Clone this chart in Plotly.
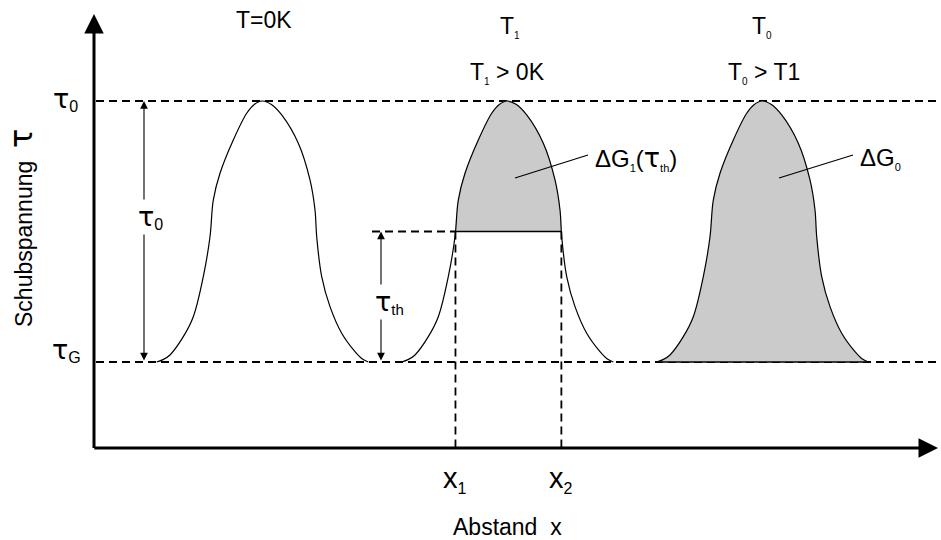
import numpy as np
import plotly.graph_objects as go

# Stress levels (arbitrary units): tau_G = 1, tau_0 = 3, threshold in between
TAU_G = 1.0
TAU_0 = 3.0
TAU_TH = 2.0
TAU_AXIS = 0.341          # height of the distance axis

# Barrier profile (distance, shear stress) of the T = 0 K curve
PROFILE_X = [0.627, 0.69, 0.76, 0.893, 0.993, 1.093, 1.16, 1.193, 1.26, 1.393, 1.527, 1.60, 1.68,
             1.77, 1.877, 2.043, 2.16, 2.21, 2.227, 2.277, 2.36, 2.477, 2.61, 2.68, 2.743]
PROFILE_TAU = [1.000, 1.018, 1.054, 1.194, 1.347, 1.654, 1.960, 2.241, 2.446, 2.701, 2.906, 2.972, 3.000,
               2.975, 2.893, 2.676, 2.395, 2.165, 1.960, 1.654, 1.424, 1.220, 1.079, 1.025, 1.000]

# The same barrier drawn for three temperatures, shifted along x
CURVE_LABELS = ["T=0K", "T<sub>1</sub>", "T<sub>0</sub>"]
CURVE_SHIFT = [0.0, 2.45, 5.00]

X_MAX = 8.44              # tip of the distance axis
Y_MAX = 3.667             # tip of the stress axis

px = np.array(PROFILE_X)
pt = np.array(PROFILE_TAU)
peak = int(np.argmax(pt))

# crossings of the curve at T1 with the threshold stress
X1 = np.interp(TAU_TH, pt[:peak + 1], px[:peak + 1]) + CURVE_SHIFT[1]
X2 = np.interp(TAU_TH, pt[peak:][::-1], px[peak:][::-1]) + CURVE_SHIFT[1]

FONT = "Liberation Sans, Arial, sans-serif"
GRAY = "#cbcbcb"
DASH = "8px,5px"
SPLINE = dict(shape="spline", smoothing=1.0)

fig = go.Figure()


def line(x, y, width=1.8, dash=DASH):
    fig.add_trace(go.Scatter(x=x, y=y, mode="lines", hoverinfo="skip",
                             line=dict(color="black", width=width, dash=dash)))


# dashed reference levels tau_0 and tau_G
for lvl in (TAU_0, TAU_G):
    line([0.02, X_MAX], [lvl, lvl])

# grey area of curve T1 above the threshold stress
above = pt > TAU_TH
fig.add_trace(go.Scatter(x=[X1] + list(px[above] + CURVE_SHIFT[1]) + [X2],
                         y=[TAU_TH] + list(pt[above]) + [TAU_TH],
                         mode="lines", fill="toself", fillcolor=GRAY,
                         line=dict(color=GRAY, width=0.5, **SPLINE), hoverinfo="skip"))

# grey area of curve T0 down to tau_G
fig.add_trace(go.Scatter(x=px + CURVE_SHIFT[2], y=pt, mode="lines", fill="toself",
                         fillcolor=GRAY, line=dict(color="black", width=1.2, **SPLINE),
                         hoverinfo="skip"))
line([px[0] + CURVE_SHIFT[2], px[-1] + CURVE_SHIFT[2]], [TAU_G, TAU_G], width=1.4, dash="solid")

# outlines of the first two barriers
for s in CURVE_SHIFT[:2]:
    fig.add_trace(go.Scatter(x=px + s, y=pt, mode="lines", hoverinfo="skip",
                             line=dict(color="black", width=1.2, **SPLINE)))

# threshold level, the lower edge of the grey area and the x1 / x2 drop lines
line([2.78, X1], [TAU_TH, TAU_TH])
line([X1, X2], [TAU_TH, TAU_TH], width=1.5, dash="solid")
for xv in (X1, X2):
    line([xv, xv], [TAU_TH, TAU_AXIS])

# leader lines to the energy labels
line([4.21, 4.94], [2.410, 2.586], width=1.2, dash="solid")
line([6.85, 7.59], [2.410, 2.586], width=1.2, dash="solid")

ann = []

# axes with arrow heads
ann.append(dict(x=0, y=Y_MAX, ax=0, ay=TAU_AXIS - 0.012, xref="x", yref="y", axref="x", ayref="y",
                text="", showarrow=True, arrowhead=2, arrowsize=1.3, arrowwidth=3, arrowcolor="black"))
ann.append(dict(x=X_MAX, y=TAU_AXIS, ax=-0.012, ay=TAU_AXIS, xref="x", yref="y", axref="x", ayref="y",
                text="", showarrow=True, arrowhead=2, arrowsize=1.3, arrowwidth=3, arrowcolor="black"))

# double arrows for tau_0 and tau_th
for xa, top, bot in ((0.50, TAU_0, TAU_G), (2.87, TAU_TH, TAU_G)):
    ann.append(dict(x=xa, y=top, ax=xa, ay=bot, xref="x", yref="y", axref="x", ayref="y",
                    text="", showarrow=True, arrowhead=2, arrowsize=1.4, arrowwidth=1.1,
                    startarrowhead=2, startarrowsize=1.4, arrowside="end+start",
                    arrowcolor="black"))


def label(x, y, text, size, xanchor="center", yanchor="middle", bg=None, angle=0):
    d = dict(x=x, y=y, xref="x", yref="y", text=text, showarrow=False,
             xanchor=xanchor, yanchor=yanchor, textangle=angle,
             font=dict(family=FONT, size=size, color="black"))
    if bg:
        d.update(bgcolor=bg, borderpad=1)
    ann.append(d)


def sub(t, size):
    return f"<sub><span style='font-size:{size}px'>{t}</span></sub>"


def tau(size):
    return f"<span style='font-family:DejaVu Sans;font-size:{size}px'>τ</span>"


label(0.56, 2.111, f"{tau(27)}{sub('0', 16)}", 20, bg="white")
label(2.95, 1.46, f"{tau(27)}{sub('th', 15)}", 20, bg="white")

# stress levels on the left
label(-0.14, 3.015, f"{tau(27)}{sub('0', 16)}", 20, xanchor="right")
label(-0.11, 1.092, f"{tau(27)}{sub('G', 16)}", 20, xanchor="right")

# temperature headers
label(1.70, 3.621, CURVE_LABELS[0], 23)
label(4.16, 3.57, f"T{sub('1', 10)}", 23)
label(6.68, 3.57, f"T{sub('0', 10)}", 23)
label(4.135, 3.215, f"T{sub('1', 10)} &gt; 0K", 23)
label(6.70, 3.215, f"T{sub('0', 10)} &gt; T1", 23)

# activation energies
label(4.99, 2.563, f"ΔG{sub('1', 11)}({tau(27)}{sub('th', 11)})", 24, xanchor="left")
label(7.64, 2.563, f"ΔG{sub('0', 11)}", 24, xanchor="left")

# x positions on the distance axis
X_LABEL_TAU = 0.096
label(X1, X_LABEL_TAU, f"x{sub('1', 16)}", 29)
label(X2, X_LABEL_TAU, f"x{sub('2', 16)}", 29)

# axis titles
label(4.13, -0.264, "Abstand  x", 23)
label(-0.73, 2.027, f"Schubspannung  {tau(32)}", 23, angle=-90)

fig.update_layout(
    width=941, height=540,
    margin=dict(l=0, r=0, t=0, b=0),
    paper_bgcolor="white", plot_bgcolor="white",
    showlegend=False,
    xaxis=dict(range=[-0.94, 8.47], visible=False, fixedrange=True),
    yaxis=dict(range=[-0.364, 3.774], visible=False, fixedrange=True),
    annotations=ann,
)

fig.write_html("out.html")
